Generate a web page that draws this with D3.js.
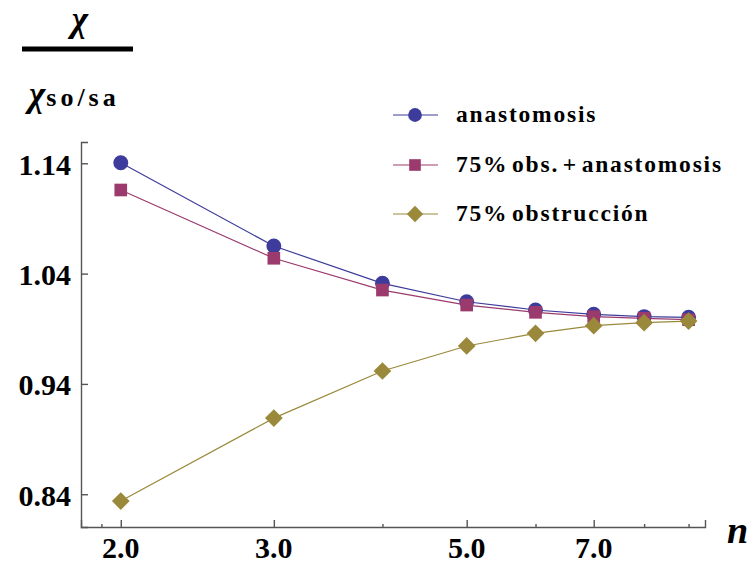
<!DOCTYPE html>
<html>
<head>
<meta charset="utf-8">
<script src="https://cdn.jsdelivr.net/npm/d3@7"></script>
<style>
  html, body { margin: 0; padding: 0; background: #fff; }
  svg { display: block; }
  text { font-family: "Liberation Serif", "Times New Roman", Times, serif; }
</style>
</head>
<body>
<svg id="chart" width="748" height="569"></svg>
<script>
// Ratio χ / χ_so/sa against n (log-scaled x axis)
const nValues = [2, 3, 4, 5, 6, 7, 8, 9];
const anastomosis = [1.1405, 1.0650, 1.0312, 1.0145, 1.0070, 1.0031, 1.0010, 1.0004];
const obsAnastomosis = [1.1158, 1.0539, 1.0251, 1.0115, 1.0049, 1.0010, 0.9995, 0.9982];
const obstruccion = [0.8338, 0.9090, 0.9517, 0.9744, 0.9859, 0.9928, 0.9955, 0.9970];

const seriesNames = ["anastomosis", "75% obs. + anastomosis", "75% obstrucción"];
const seriesColors = ["#3d3c9c", "#9b3b6d", "#9a893b"];
const seriesShapes = ["circle", "square", "diamond"];

const xTickValues = [2, 3, 5, 7];
const xTickLabels = ["2.0", "3.0", "5.0", "7.0"];
const xMinorTicks = [1.9, 4, 6, 8, 9];
const yTickValues = [1.14, 1.04, 0.94, 0.84];
const yTickLabels = ["1.14", "1.04", "0.94", "0.84"];

const svg = d3.select("#chart");
const axisColor = "#555";

const x = d3.scaleLog().domain([1.8, 9.4]).range([81, 705]);
const y = d3.scaleLinear().domain([0.8103, 1.1593]).range([527, 142]);

// Axes (ticks point inward)
const xAxis = d3.axisTop(x)
  .tickValues(xTickValues)
  .tickSize(7)
  .tickFormat("");
const gx = svg.append("g").attr("transform", `translate(0,${y.range()[0]})`).call(xAxis);
const xMinor = d3.axisTop(x).tickValues(xMinorTicks).tickSize(3).tickFormat("");
const gxm = svg.append("g").attr("transform", `translate(0,${y.range()[0]})`).call(xMinor);
gxm.select(".domain").remove();

const yAxis = d3.axisRight(y)
  .tickValues(yTickValues)
  .tickSize(7)
  .tickFormat("");
const gy = svg.append("g").attr("transform", `translate(${x.range()[0]},0)`).call(yAxis);

[gx, gxm, gy].forEach(g => {
  g.selectAll("path.domain").attr("stroke", axisColor).attr("stroke-width", 1.4);
  g.selectAll(".tick line").attr("stroke", axisColor).attr("stroke-width", 1.4);
});

// Tick labels
svg.append("g").selectAll("text")
  .data(xTickValues)
  .join("text")
  .attr("x", d => x(d))
  .attr("y", 558)
  .attr("text-anchor", "middle")
  .attr("font-weight", "bold")
  .attr("font-size", 30)
  .attr("fill", "#000")
  .text((d, i) => xTickLabels[i]);

svg.append("g").selectAll("text")
  .data(yTickValues)
  .join("text")
  .attr("x", 71)
  .attr("y", d => y(d) + 11.5)
  .attr("text-anchor", "end")
  .attr("font-weight", "bold")
  .attr("font-size", 30)
  .attr("fill", "#000")
  .text((d, i) => yTickLabels[i]);

// Marker symbols
function symbolPath(shape, scale) {
  if (shape === "circle") return d3.symbol(d3.symbolCircle, 175 * scale)();
  if (shape === "square") return d3.symbol(d3.symbolSquare, 160 * scale)();
  return d3.symbol(d3.symbolDiamond2, 200 * scale)();
}

const allSeries = [anastomosis, obsAnastomosis, obstruccion];
const line = d3.line().x((d, i) => x(nValues[i])).y(d => y(d));

allSeries.forEach((vals, k) => {
  const g = svg.append("g");
  g.append("path")
    .datum(vals)
    .attr("fill", "none")
    .attr("stroke", seriesColors[k])
    .attr("stroke-width", 1.2)
    .attr("d", line);
  g.selectAll("path.mark")
    .data(vals)
    .join("path")
    .attr("class", "mark")
    .attr("transform", (d, i) => `translate(${x(nValues[i])},${y(d)})`)
    .attr("d", symbolPath(seriesShapes[k], 1))
    .attr("fill", seriesColors[k]);
});

// Legend
const legendY = [115, 165, 214];
const legend = svg.append("g");
seriesNames.forEach((name, k) => {
  const ly = legendY[k];
  legend.append("line")
    .attr("x1", 393).attr("x2", 438)
    .attr("y1", ly).attr("y2", ly)
    .attr("stroke", seriesColors[k]).attr("stroke-width", 1.2);
  legend.append("path")
    .attr("transform", `translate(415,${ly})`)
    .attr("d", symbolPath(seriesShapes[k], 0.85))
    .attr("fill", seriesColors[k]);
  legend.append("text")
    .attr("x", 456)
    .attr("y", ly + 7)
    .attr("font-weight", "bold")
    .attr("font-size", 23.5)
    .attr("letter-spacing", 1.8)
    .attr("word-spacing", -4)
    .attr("fill", "#000")
    .text(name);
});

// Y label: χ over χ_so/sa
svg.append("text")
  .attr("x", 80).attr("y", 31)
  .attr("text-anchor", "middle")
  .attr("font-style", "italic")
  .attr("font-weight", "bold")
  .attr("font-size", 35)
  .attr("fill", "#000")
  .text("χ");
svg.append("rect")
  .attr("x", 22).attr("y", 46.5)
  .attr("width", 111).attr("height", 5)
  .attr("fill", "#000");
const bottomLabel = svg.append("text")
  .attr("x", 29).attr("y", 106)
  .attr("fill", "#000");
bottomLabel.append("tspan")
  .attr("font-style", "italic")
  .attr("font-weight", "bold")
  .attr("font-size", 35)
  .text("χ");
bottomLabel.append("tspan")
  .attr("font-weight", "bold")
  .attr("font-size", 26)
  .attr("letter-spacing", 4)
  .attr("dx", 1)
  .text("so/sa");

// X label
svg.append("text")
  .attr("x", 727).attr("y", 543)
  .attr("font-style", "italic")
  .attr("font-weight", "bold")
  .attr("font-size", 38)
  .attr("fill", "#000")
  .text("n");
</script>
</body>
</html>
